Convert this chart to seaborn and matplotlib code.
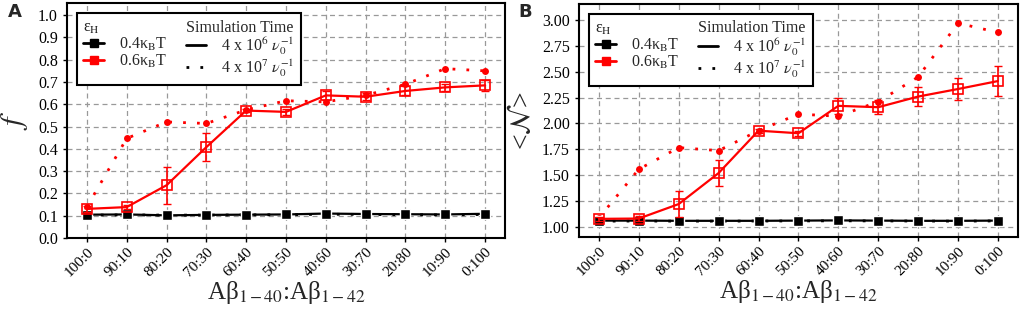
import numpy as np
import pandas as pd
import matplotlib
matplotlib.use('Agg')
import matplotlib.pyplot as plt
from matplotlib.lines import Line2D
import seaborn as sns

# composition ratios on the x axis
ratios = ['100:0', '90:10', '80:20', '70:30', '60:40', '50:50',
          '40:60', '30:70', '20:80', '10:90', '0:100']

# panel A: fraction f
f_04_short = [0.105, 0.106, 0.102, 0.104, 0.105, 0.106, 0.110, 0.108, 0.107, 0.106, 0.109]
f_04_short_err = [0.004, 0.004, 0.004, 0.004, 0.004, 0.004, 0.005, 0.004, 0.004, 0.004, 0.004]
f_04_long = [0.103, 0.104, 0.103, 0.103, 0.104, 0.105, 0.107, 0.106, 0.105, 0.104, 0.106]
f_06_short = [0.131, 0.139, 0.237, 0.408, 0.572, 0.566, 0.640, 0.634, 0.660, 0.676, 0.685]
f_06_short_err = [0.012, 0.010, 0.083, 0.062, 0.008, 0.012, 0.020, 0.015, 0.020, 0.015, 0.025]
f_06_long = [0.140, 0.447, 0.521, 0.514, 0.575, 0.616, 0.611, 0.640, 0.690, 0.760, 0.750]

# panel B: <N>
N_04_short = [1.060, 1.060, 1.058, 1.058, 1.058, 1.060, 1.062, 1.060, 1.058, 1.058, 1.060]
N_04_short_err = [0.008, 0.008, 0.008, 0.008, 0.008, 0.008, 0.008, 0.008, 0.008, 0.008, 0.008]
N_04_long = [1.055, 1.056, 1.055, 1.055, 1.056, 1.057, 1.058, 1.057, 1.056, 1.055, 1.057]
N_06_short = [1.077, 1.080, 1.220, 1.520, 1.930, 1.905, 2.170, 2.157, 2.260, 2.333, 2.410]
N_06_short_err = [0.020, 0.020, 0.125, 0.125, 0.020, 0.025, 0.075, 0.070, 0.095, 0.105, 0.145]
N_06_long = [1.085, 1.557, 1.766, 1.737, 1.930, 2.090, 2.070, 2.210, 2.450, 2.970, 2.880]

sns.set_style('ticks')
plt.rcParams['font.family'] = ['Liberation Serif', 'DejaVu Serif']
plt.rcParams['mathtext.fontset'] = 'stix'

xpos = np.arange(len(ratios))
RED = '#ff0000'
DOT = (0, (1, 4))


def draw_panel(ax, s04, e04, l04, s06, e06, l06):
    # dotted (long runs) first, then solid with error bars
    sns.lineplot(x=xpos, y=l04, ax=ax, color='black', linestyle=DOT, linewidth=2,
                 marker='o', markersize=4, markeredgewidth=0)
    sns.lineplot(x=xpos, y=l06, ax=ax, color=RED, linestyle=DOT, linewidth=2,
                 marker='o', markersize=5, markeredgewidth=0)
    ax.errorbar(xpos, s04, yerr=e04, fmt='none', ecolor='black', capsize=3, elinewidth=1.2)
    sns.lineplot(x=xpos, y=s04, ax=ax, color='black', linewidth=1.6,
                 marker='s', markersize=7, markeredgewidth=1)
    ax.errorbar(xpos, s06, yerr=e06, fmt='none', ecolor=RED, capsize=3, elinewidth=1.2)
    sns.lineplot(x=xpos, y=s06, ax=ax, color=RED, linewidth=1.6,
                 marker='s', markersize=6.5, markerfacecolor='none',
                 markeredgecolor=RED, markeredgewidth=1.2)

    ax.set_xlim(-0.5, 10.5)
    ax.set_xticks(xpos)
    ax.set_xticklabels(ratios, rotation=45, ha='right', rotation_mode='anchor', fontsize=11)
    ax.set_xlabel('Aβ$_{1-40}$:Aβ$_{1-42}$', fontsize=18, labelpad=0)
    ax.grid(True, color='#999999', linestyle=(0, (4, 3)), linewidth=0.9)
    ax.set_axisbelow(True)
    for sp in ax.spines.values():
        sp.set_linewidth(1.5)
        sp.set_color('black')
    ax.tick_params(axis='both', labelsize=11.5, length=3, width=1, colors='black')
    ax.tick_params(axis='x', labelsize=11, pad=2)

    handles = [
        Line2D([], [], linestyle='none'),
        Line2D([], [], color='black', linewidth=2, marker='s', markersize=6),
        Line2D([], [], color=RED, linewidth=2, marker='s', markersize=6),
        Line2D([], [], linestyle='none'),
        Line2D([], [], color='black', linewidth=2),
        Line2D([], [], color='black', linestyle=DOT, linewidth=2),
    ]
    labels = ['ε$_{\\rm H}$', '0.4κ$_{\\rm B}$T', '0.6κ$_{\\rm B}$T',
              'Simulation Time', r'4 x 10$^6$ $\nu_0^{-1}$', r'4 x 10$^7$ $\nu_0^{-1}$']
    leg = ax.legend(handles, labels, ncol=2, loc='upper left', bbox_to_anchor=(0.023, 0.957),
                    borderaxespad=0, fontsize=11.5, frameon=True, fancybox=False,
                    framealpha=1, edgecolor='black', handlelength=1.3, handletextpad=0.9,
                    columnspacing=1.2, labelspacing=0.0, borderpad=0.4)
    leg.get_frame().set_linewidth(1.5)
    # header rows: remove handle space so the text starts at the handle column
    for col in leg._legend_handle_box.get_children():
        rows = col.get_children()
        da, ta = rows[0].get_children()
        da.width = 0
        rows[0].sep = 0
    return ax


fig = plt.figure(figsize=(10.21, 3.10), dpi=100)
axA = fig.add_axes([0.0656, 0.232, 0.429, 0.758])
axB = fig.add_axes([0.567, 0.235, 0.430, 0.752])

draw_panel(axA, f_04_short, f_04_short_err, f_04_long, f_06_short, f_06_short_err, f_06_long)
axA.set_ylim(0, 1.054)
axA.set_yticks(np.arange(0, 1.01, 0.1))
axA.set_yticklabels(['%.1f' % v for v in np.arange(0, 1.01, 0.1)])
axA.set_ylabel(r'$\mathit{f}$', fontsize=22, labelpad=6)

draw_panel(axB, N_04_short, N_04_short_err, N_04_long, N_06_short, N_06_short_err, N_06_long)
axB.set_ylim(0.90, 3.155)
axB.set_yticks(np.arange(1.0, 3.01, 0.25))
axB.set_yticklabels(['%.2f' % v for v in np.arange(1.0, 3.01, 0.25)])
axB.set_ylabel(r'<$\mathcal{N}$>', fontsize=20, labelpad=4)

fig.text(0.008, 0.99, 'A', fontsize=13, fontweight='bold', family='DejaVu Sans', va='top')
fig.text(0.508, 0.99, 'B', fontsize=13, fontweight='bold', family='DejaVu Sans', va='top')

fig.savefig('out.png', dpi=100)
